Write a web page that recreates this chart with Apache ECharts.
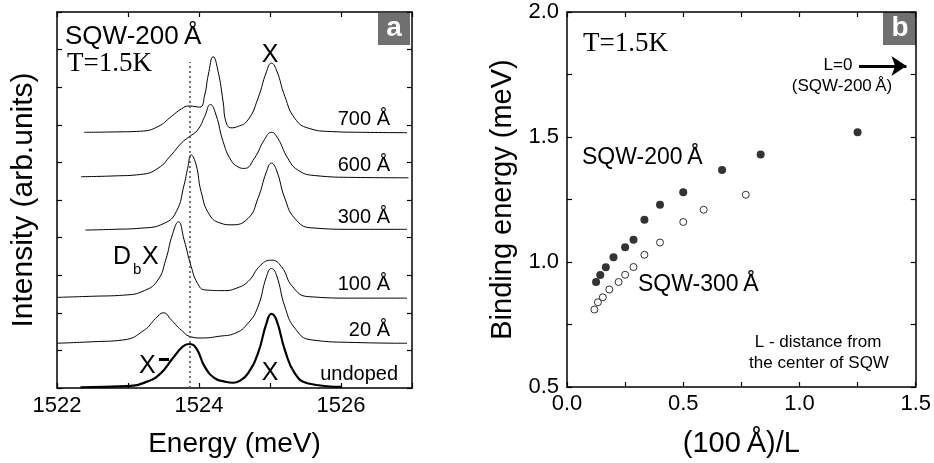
<!DOCTYPE html>
<html>
<head>
<meta charset="utf-8">
<script src="https://cdn.jsdelivr.net/npm/echarts@6/dist/echarts.min.js"></script>
<style>
  html, body { margin: 0; padding: 0; background: #fff; }
  #chart { width: 934px; height: 463px; }
</style>
</head>
<body>
<div id="chart"></div>
<script>
// panel a: PL spectra, [energy (meV), offset intensity]
var curve700 = [[1522.38,6.80],[1522.8,6.81],[1523.18,6.83],[1523.42,6.95],[1523.61,7.22],[1523.75,7.42],[1523.86,7.50],[1524.01,7.47],[1524.08,7.79],[1524.13,8.32],[1524.20,8.81],[1524.27,8.41],[1524.34,7.61],[1524.38,7.08],[1524.45,6.92],[1524.54,6.95],[1524.69,7.13],[1524.83,7.70],[1524.95,8.41],[1525.02,8.64],[1525.09,8.46],[1525.21,7.75],[1525.35,7.17],[1525.54,6.91],[1525.87,6.82],[1526.3,6.80],[1526.93,6.79]];
var curve600 = [[1522.34,5.62],[1522.8,5.64],[1523.18,5.68],[1523.42,5.84],[1523.61,6.20],[1523.75,6.51],[1523.86,6.68],[1523.98,6.86],[1524.08,7.22],[1524.16,7.54],[1524.24,7.26],[1524.34,6.55],[1524.45,6.06],[1524.55,5.88],[1524.64,5.84],[1524.78,6.11],[1524.92,6.60],[1525.02,6.80],[1525.11,6.64],[1525.25,6.11],[1525.39,5.80],[1525.63,5.65],[1526.2,5.60],[1526.95,5.59]];
var curve300 = [[1522.40,4.20],[1522.8,4.22],[1523.18,4.25],[1523.51,4.38],[1523.68,4.69],[1523.79,5.40],[1523.84,5.84],[1523.89,6.20],[1523.96,5.93],[1524.03,5.22],[1524.15,4.60],[1524.31,4.38],[1524.45,4.34],[1524.69,4.51],[1524.83,5.04],[1524.95,5.75],[1525.02,5.98],[1525.09,5.80],[1525.21,5.04],[1525.35,4.51],[1525.58,4.26],[1526.2,4.22],[1526.93,4.22]];
var curve100 = [[1522.0,2.41],[1522.5,2.44],[1522.94,2.47],[1523.23,2.59],[1523.42,2.87],[1523.53,3.40],[1523.63,4.11],[1523.71,4.42],[1523.79,3.94],[1523.89,3.23],[1523.98,2.78],[1524.08,2.61],[1524.36,2.59],[1524.52,2.65],[1524.69,2.83],[1524.87,3.27],[1525.02,3.40],[1525.16,3.23],[1525.32,2.69],[1525.54,2.43],[1526.2,2.39],[1526.93,2.39]];
var curve20 = [[1522.0,1.19],[1522.5,1.23],[1522.94,1.28],[1523.23,1.54],[1523.39,1.85],[1523.50,2.00],[1523.61,1.81],[1523.75,1.54],[1523.89,1.36],[1524.03,1.33],[1524.3,1.38],[1524.5,1.45],[1524.69,1.72],[1524.83,2.16],[1524.95,2.96],[1525.02,3.18],[1525.09,3.01],[1525.21,2.16],[1525.35,1.59],[1525.58,1.28],[1526.2,1.21],[1526.93,1.19]];
var curveUndoped = [[1522.33,0.02],[1522.99,0.05],[1523.27,0.17],[1523.46,0.39],[1523.63,0.79],[1523.77,1.10],[1523.86,1.17],[1523.96,1.06],[1524.08,0.57],[1524.22,0.26],[1524.36,0.17],[1524.48,0.14],[1524.59,0.21],[1524.69,0.39],[1524.83,0.92],[1524.95,1.72],[1525.02,1.97],[1525.09,1.81],[1525.21,1.01],[1525.35,0.39],[1525.54,0.12],[1526.01,0.03]];
var curveNames = ['700 Å', '600 Å', '300 Å', '100 Å', '20 Å', 'undoped'];
var energyLabels = [1522, 1524, 1526];
var xMinusEnergy = 1523.87;

// panel b: binding energy vs (100 A)/L
var invL200 = [0.125, 0.143, 0.167, 0.2, 0.25, 0.286, 0.333, 0.4, 0.5, 0.667, 0.833, 1.25];
var bind200 = [0.92, 0.948, 0.979, 1.019, 1.059, 1.089, 1.169, 1.229, 1.279, 1.368, 1.430, 1.519];
var invL300 = [0.118, 0.133, 0.154, 0.182, 0.222, 0.25, 0.286, 0.333, 0.4, 0.5, 0.588, 0.769];
var bind300 = [0.810, 0.839, 0.859, 0.890, 0.920, 0.949, 0.980, 1.029, 1.078, 1.160, 1.209, 1.269];
var bindLabels = ['0.5', '1.0', '1.5', '2.0'];

var chart = echarts.init(document.getElementById('chart'));
var sans = 'Liberation Sans, Arial, sans-serif';
var serif = 'Liberation Serif, Times New Roman, serif';

function frameAxis(extra) {
  var a = {
    type: 'value',
    axisLine: { show: true, onZero: false, lineStyle: { color: '#000', width: 1.5 } },
    axisTick: { show: true, inside: true, length: 5, lineStyle: { color: '#000', width: 1.2 } },
    axisLabel: { show: false },
    splitLine: { show: false }
  };
  for (var k in extra) a[k] = extra[k];
  return a;
}

function spectrum(d, w) {
  return {
    type: 'line', xAxisIndex: 0, yAxisIndex: 0, data: d,
    smooth: 0.5, showSymbol: false, symbol: 'none',
    lineStyle: { color: '#000', width: w }, silent: true
  };
}

function txt(x, y, s, font, align, fill) {
  return {
    type: 'text', x: x, y: y, silent: true,
    style: { text: s, font: font, fill: fill || '#000', align: align || 'center', verticalAlign: 'middle' }
  };
}

var curveLabelY = [119, 165, 217, 284, 330, 374];
var graphics = [];
curveNames.forEach(function (n, i) {
  graphics.push(txt(n === 'undoped' ? 398 : 390, curveLabelY[i], n, '20px ' + sans, 'right'));
});
graphics = graphics.concat([
  txt(65, 37, 'SQW-200\u202FÅ', '26px ' + sans, 'left'),
  txt(67, 64, 'T=1.5K', '27px ' + serif, 'left'),
  txt(270, 55, 'X', '25px ' + sans),
  txt(113, 257, 'D', '25px ' + sans, 'left'),
  txt(133, 270, 'b', '15px ' + sans, 'left'),
  txt(142, 257, 'X', '25px ' + sans, 'left'),
  txt(139, 366, 'X', '25px ' + sans, 'left'),
  { type: 'rect', shape: { x: 159, y: 358, width: 10, height: 3 }, style: { fill: '#000' }, silent: true },
  txt(270, 373, 'X', '25px ' + sans),
  { type: 'rect', shape: { x: 378, y: 13, width: 32, height: 32 }, style: { fill: '#707070' }, silent: true },
  txt(394, 28, 'a', 'bold 28px ' + sans, 'center', '#fff'),
  // panel b
  txt(583, 44, 'T=1.5K', '27px ' + serif, 'left'),
  { type: 'rect', shape: { x: 883, y: 12, width: 33, height: 33 }, style: { fill: '#707070' }, silent: true },
  txt(900, 28, 'b', 'bold 28px ' + sans, 'center', '#fff'),
  txt(838, 65, 'L=0', '17px ' + sans),
  txt(842, 86, '(SQW-200\u202FÅ)', '17px ' + sans),
  txt(582, 158, 'SQW-200\u202FÅ', '23px ' + sans, 'left'),
  txt(638, 285, 'SQW-300\u202FÅ', '23px ' + sans, 'left'),
  txt(818, 342, 'L - distance from', '17px ' + sans),
  txt(819, 363, 'the center of SQW', '17px ' + sans)
]);

var option = {
  animation: false,
  backgroundColor: '#fff',
  textStyle: { fontFamily: sans },
  grid: [
    { left: 57, top: 12, width: 355, height: 376 },
    { left: 567, top: 12, width: 350, height: 376 }
  ],
  xAxis: [
    frameAxis({
      gridIndex: 0, min: 1522, max: 1527, interval: 1, position: 'bottom',
      axisLabel: {
        show: true, color: '#000', fontSize: 22, margin: 7, fontFamily: sans,
        formatter: function (v) { return energyLabels.indexOf(v) >= 0 ? String(v) : ''; }
      },
      name: 'Energy (meV)', nameLocation: 'middle', nameGap: 42,
      nameTextStyle: { fontSize: 28, color: '#000', fontFamily: sans }
    }),
    frameAxis({ gridIndex: 0, min: 1522, max: 1527, interval: 1, position: 'top' }),
    frameAxis({
      gridIndex: 1, min: 0, max: 1.5, interval: 0.25, position: 'bottom',
      axisLabel: {
        show: true, color: '#000', fontSize: 22, margin: 6, fontFamily: sans,
        formatter: function (v) { return (v * 2) % 1 === 0 ? v.toFixed(1) : ''; }
      },
      name: '(100\u202FÅ)/L', nameLocation: 'middle', nameGap: 42,
      nameTextStyle: { fontSize: 29, color: '#000', fontFamily: sans }
    }),
    frameAxis({ gridIndex: 1, min: 0, max: 1.5, interval: 0.25, position: 'top' })
  ],
  yAxis: [
    frameAxis({
      gridIndex: 0, min: 0, max: 10, interval: 1, position: 'left',
      name: 'Intensity (arb.units)', nameLocation: 'middle', nameGap: 18,
      nameTextStyle: { fontSize: 30, color: '#000', fontFamily: sans }
    }),
    frameAxis({ gridIndex: 0, min: 0, max: 10, interval: 1, position: 'right' }),
    frameAxis({
      gridIndex: 1, min: 0.5, max: 2.0, interval: 0.25, position: 'left',
      axisLabel: {
        show: true, color: '#000', fontSize: 22, margin: 8, fontFamily: sans,
        formatter: function (v) { var s = v.toFixed(1); return bindLabels.indexOf(s) >= 0 && (v * 2) % 1 === 0 ? s : ''; }
      },
      name: 'Binding energy (meV)', nameLocation: 'middle', nameGap: 50,
      nameTextStyle: { fontSize: 29, color: '#000', fontFamily: sans }
    }),
    frameAxis({ gridIndex: 1, min: 0.5, max: 2.0, interval: 0.25, position: 'right' })
  ],
  series: [
    spectrum(curve700, 1),
    spectrum(curve600, 1),
    spectrum(curve300, 1),
    spectrum(curve100, 1),
    spectrum(curve20, 1),
    Object.assign(spectrum(curveUndoped, 2.2), {
      markLine: {
        silent: true, symbol: ['none', 'none'], label: { show: false },
        lineStyle: { color: '#444', width: 1.5, type: [2, 3] },
        data: [[{ coord: [xMinusEnergy, 0] }, { coord: [xMinusEnergy, 8.67] }]]
      }
    }),
    {
      type: 'scatter', xAxisIndex: 2, yAxisIndex: 2, silent: true,
      data: invL200.map(function (x, i) { return [x, bind200[i]]; }),
      symbol: 'circle', symbolSize: 8,
      itemStyle: { color: '#000' },
      markLine: {
        silent: true, symbol: ['none', 'arrow'], symbolSize: 15, label: { show: false },
        lineStyle: { color: '#000', width: 3, type: 'solid' },
        data: [[{ coord: [1.256, 1.784] }, { coord: [1.46, 1.784] }]]
      }
    },
    {
      type: 'scatter', xAxisIndex: 2, yAxisIndex: 2, silent: true,
      data: invL300.map(function (x, i) { return [x, bind300[i]]; }),
      symbol: 'circle', symbolSize: 7,
      itemStyle: { color: '#fff', borderColor: '#000', borderWidth: 1 }
    }
  ],
  graphic: graphics
};
chart.setOption(option);
</script>
</body>
</html>
